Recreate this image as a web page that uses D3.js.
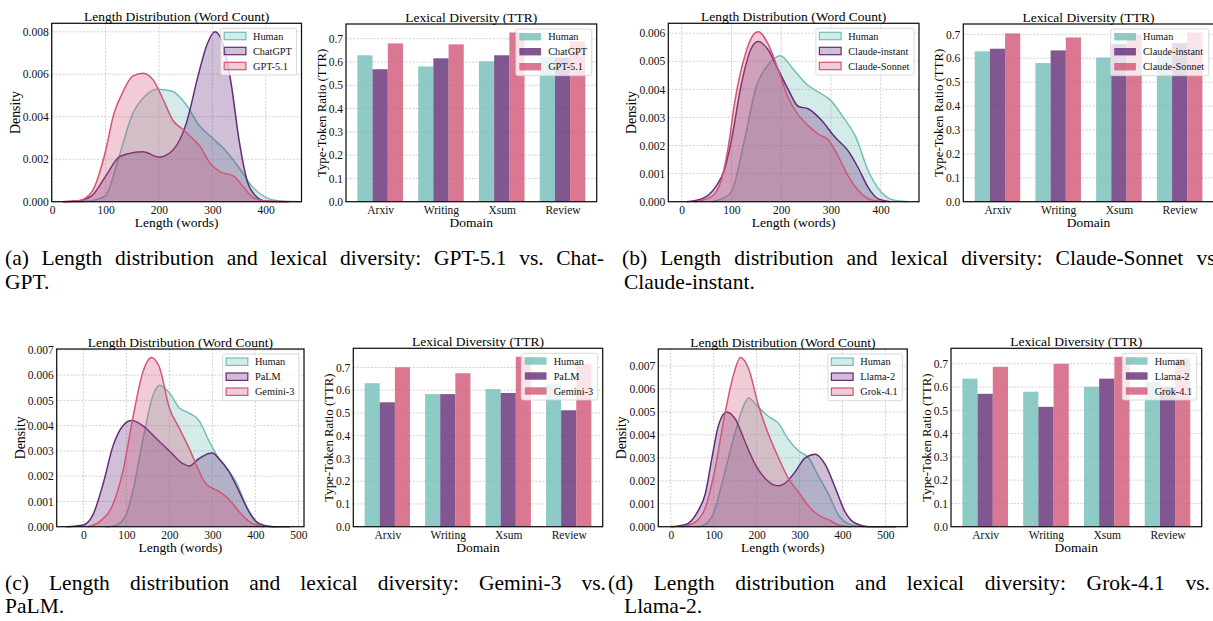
<!DOCTYPE html>
<html>
<head>
<meta charset="utf-8">
<script src="https://cdn.jsdelivr.net/npm/d3@7"></script>
<style>
  body { margin: 0; background: #fff; }
  svg { display: block; }
</style>
</head>
<body>
<script>
// ---- data ----
const domains = ["Arxiv", "Writing", "Xsum", "Review"];

// (a) GPT-5.1 vs ChatGPT
const labelsA = ["Human", "ChatGPT", "GPT-5.1"];
const kdeHumanA = [[40,0],[60,0.00001],[75,0.00005],[100,0.0003],[125,0.0021],[150,0.0041],[175,0.0050],[195,0.0053],[225,0.0052],[250,0.0046],[275,0.0036],[300,0.0030],[325,0.0024],[350,0.0016],[375,0.0007],[400,0.0002],[425,0.00003],[465,0]];
const kdeChatgptA = [[20,0],[50,0.00005],[75,0.0003],[100,0.0012],[125,0.0021],[150,0.0023],[170,0.00235],[200,0.0021],[225,0.0024],[250,0.0036],[275,0.0061],[290,0.0074],[305,0.0080],[320,0.0074],[335,0.0056],[350,0.0029],[365,0.0010],[380,0.0003],[400,0.00002],[440,0]];
const kdeGpt51A = [[20,0],[50,0.00005],[75,0.0005],[100,0.0024],[115,0.0041],[133,0.0052],[150,0.0059],[170,0.00605],[190,0.0057],[208,0.0048],[227,0.0038],[245,0.0034],[262,0.0030],[277,0.0026],[296,0.0018],[315,0.0014],[340,0.0012],[358,0.0007],[376,0.0002],[400,0.00003],[445,0]];
const ttrHumanA = [0.629, 0.581, 0.603, 0.621];
const ttrChatgptA = [0.569, 0.616, 0.629, 0.620];
const ttrGpt51A = [0.680, 0.676, 0.727, 0.689];

// (b) Claude-Sonnet vs Claude-instant
const labelsB = ["Human", "Claude-instant", "Claude-Sonnet"];
const kdeHumanB = [[60,0],[74,0.00006],[100,0.00036],[125,0.0021],[150,0.0041],[175,0.0049],[198,0.0052],[225,0.0047],[250,0.0042],[275,0.0039],[300,0.0036],[325,0.0030],[350,0.0023],[375,0.0011],[400,0.00036],[425,0.00006],[455,0]];
const kdeInstantB = [[10,0],[40,0.0001],[67,0.0005],[87,0.0012],[100,0.0022],[120,0.0042],[141,0.0055],[154,0.0057],[174,0.0054],[194,0.0047],[214,0.0040],[234,0.0034],[255,0.0033],[281,0.0029],[308,0.0023],[335,0.0018],[355,0.0012],[375,0.0005],[395,0.0001],[420,0]];
const kdeSonnetB = [[27,0],[60,0.00018],[80,0.0008],[94,0.0020],[107,0.0036],[127,0.0052],[147,0.0060],[154,0.00605],[174,0.0056],[194,0.0047],[214,0.0037],[234,0.0031],[255,0.0027],[275,0.0024],[295,0.0022],[315,0.0016],[335,0.0009],[355,0.0004],[382,0.00006],[410,0]];
const ttrHumanB = [0.629, 0.580, 0.603, 0.620];
const ttrInstantB = [0.640, 0.633, 0.660, 0.664];
const ttrSonnetB = [0.704, 0.687, 0.700, 0.708];

// (c) Gemini-3 vs PaLM
const labelsC = ["Human", "PaLM", "Gemini-3"];
const kdeHumanC = [[50,0],[62,0.00001],[75,0.00005],[100,0.0005],[115,0.0014],[138,0.0034],[162,0.0052],[177,0.0056],[200,0.0053],[223,0.0047],[246,0.0045],[269,0.0042],[292,0.0034],[315,0.0027],[338,0.0022],[354,0.0018],[377,0.0009],[400,0.0002],[423,0.00003],[450,0]];
const kdePalmC = [[-40,0],[0,0.00007],[23,0.0005],[46,0.0017],[69,0.0032],[92,0.0040],[112,0.0042],[138,0.0040],[169,0.0035],[200,0.0030],[231,0.0025],[246,0.0024],[269,0.0027],[292,0.0029],[300,0.00292],[315,0.0027],[338,0.0022],[362,0.0014],[385,0.0006],[408,0.00013],[440,0],[480,0]];
const kdeGeminiC = [[10,0],[38,0.0002],[69,0.0009],[92,0.0022],[115,0.0043],[138,0.0061],[158,0.0067],[177,0.0063],[200,0.0047],[223,0.0039],[246,0.0031],[269,0.0022],[285,0.0017],[315,0.0014],[338,0.0011],[362,0.0006],[392,0.00013],[420,0]];
const ttrHumanC = [0.631, 0.583, 0.605, 0.627];
const ttrPalmC = [0.547, 0.583, 0.588, 0.512];
const ttrGeminiC = [0.701, 0.675, 0.747, 0.715];

// (d) Grok-4.1 vs Llama-2
const labelsD = ["Human", "Llama-2", "Grok-4.1"];
const kdeHumanD = [[60,0],[75,0.00005],[100,0.0006],[125,0.0023],[150,0.0041],[173,0.0054],[181,0.0056],[204,0.0052],[228,0.0048],[251,0.0045],[274,0.0038],[298,0.0033],[321,0.0030],[344,0.0022],[368,0.0014],[391,0.0005],[422,0.00007],[450,0]];
const kdeLlamaD = [[0,0],[25,0.00005],[41,0.00015],[64,0.0007],[80,0.0014],[96,0.0030],[111,0.0044],[130,0.0050],[150,0.0047],[173,0.0037],[197,0.0027],[220,0.0021],[243,0.0018],[250,0.00178],[267,0.0019],[290,0.0024],[313,0.0030],[337,0.00316],[360,0.0027],[383,0.0017],[406,0.00065],[430,0.00015],[461,0],[525,0]];
const kdeGrokD = [[26,0],[57,0.0002],[80,0.0008],[103,0.0025],[127,0.0050],[146,0.0066],[162,0.00737],[181,0.0069],[204,0.0053],[228,0.0040],[251,0.0030],[274,0.0021],[298,0.0015],[321,0.0009],[344,0.0005],[368,0.0003],[391,0.00007],[420,0]];
const ttrHumanD = [0.636, 0.580, 0.601, 0.623];
const ttrLlamaD = [0.571, 0.515, 0.636, 0.600];
const ttrGrokD = [0.687, 0.700, 0.730, 0.722];

// tick values
const lenTicks4 = [0, 100, 200, 300, 400];
const lenTicks5 = [0, 100, 200, 300, 400, 500];
const densTicksA = [0, 0.002, 0.004, 0.006, 0.008];
const densTicks6 = [0, 0.001, 0.002, 0.003, 0.004, 0.005, 0.006];
const densTicks7 = [0, 0.001, 0.002, 0.003, 0.004, 0.005, 0.006, 0.007];
const ttrTicks = [0, 0.1, 0.2, 0.3, 0.4, 0.5, 0.6, 0.7];

const captions = [
  "(a) Length distribution and lexical diversity: GPT-5.1 vs. Chat-", "GPT.",
  "(b) Length distribution and lexical diversity: Claude-Sonnet vs.", "Claude-instant.",
  "(c) Length distribution and lexical diversity: Gemini-3 vs.", "PaLM.",
  "(d) Length distribution and lexical diversity: Grok-4.1 vs.", "Llama-2."
];

// ---- drawing ----
const W = 1213, H = 621;
const FONT = "'Liberation Serif','Times New Roman',serif";
const colors = ["#73beb8", "#622c76", "#d15676"];

const svg = d3.select("body").append("svg").attr("width", W).attr("height", H);
svg.append("rect").attr("width", W).attr("height", H).attr("fill", "#fff");

function gridLines(g, box, xs, ys) {
  g.selectAll(null).data(xs).join("line")
    .attr("x1", d => d).attr("x2", d => d).attr("y1", box.y0).attr("y2", box.y1);
  g.selectAll(null).data(ys).join("line")
    .attr("x1", box.x0).attr("x2", box.x1).attr("y1", d => d).attr("y2", d => d);
  g.selectAll("line").attr("stroke", "#c4c4c4").attr("stroke-width", 0.8)
    .attr("stroke-dasharray", "2,1.5");
}

function styleAxis(ax) {
  ax.select(".domain").remove();
  ax.selectAll("text").attr("font-family", FONT).attr("font-size", 11.5).attr("fill", "#111");
}

function decorate(box, title, xLabel, yLabel, yOff, labelSize) {
  svg.append("rect").attr("x", box.x0).attr("y", box.y0)
    .attr("width", box.x1 - box.x0).attr("height", box.y1 - box.y0)
    .attr("fill", "none").attr("stroke", "#111").attr("stroke-width", 1.25);
  const cx = (box.x0 + box.x1) / 2, cy = (box.y0 + box.y1) / 2;
  svg.append("text").attr("x", cx).attr("y", box.y0 - 6.5).attr("text-anchor", "middle")
    .attr("dominant-baseline", "central").attr("font-family", FONT).attr("font-size", 13.5)
    .text(title);
  svg.append("text").attr("x", cx).attr("y", box.y1 + 20.5).attr("text-anchor", "middle")
    .attr("dominant-baseline", "central").attr("font-family", FONT).attr("font-size", 13.5)
    .text(xLabel);
  svg.append("text").attr("transform", `translate(${box.x0 - yOff},${cy}) rotate(-90)`)
    .attr("text-anchor", "middle").attr("dominant-baseline", "central")
    .attr("font-family", FONT).attr("font-size", labelSize).text(yLabel);
}

function legend(box, labels, kind) {
  const g = svg.append("g");
  const frame = g.append("rect");
  const texts = labels.map((l, i) => g.append("text")
    .attr("dominant-baseline", "central").attr("font-family", FONT)
    .attr("font-size", 10.3).attr("fill", "#111").text(l));
  const tw = d3.max(texts, t => t.node().getComputedTextLength());
  const w = 32.3 + tw + 4.6, h = 46.7;
  const lx = box.x1 - 5 - w, ly = box.y0 + 5;
  frame.attr("x", lx).attr("y", ly).attr("width", w).attr("height", h).attr("rx", 2)
    .attr("fill", "#fff").attr("fill-opacity", 0.8).attr("stroke", "#d0d0d0").attr("stroke-width", 0.8);
  labels.forEach((l, i) => {
    const ry = ly + 7.7 + i * 15;
    const p = g.append("rect").attr("x", lx + 3.5).attr("y", ry - 3.7).attr("width", 21.7).attr("height", 7.4);
    if (kind === "kde") {
      p.attr("fill", colors[i]).attr("fill-opacity", 0.3).attr("stroke", colors[i]).attr("stroke-width", 1.2);
    } else {
      p.attr("fill", colors[i]).attr("fill-opacity", 0.8);
    }
    texts[i].attr("x", lx + 32.3).attr("y", ry);
  });
}

function drawKde(box, series, labels, xDomain, xTicks, yTicks) {
  const x = d3.scaleLinear().domain(xDomain).range([box.x0, box.x1]);
  const ymax = d3.max(series, s => d3.max(s, d => d[1])) * 1.05;
  const y = d3.scaleLinear().domain([0, ymax]).range([box.y1, box.y0]);
  gridLines(svg.append("g"), box, xTicks.map(x), yTicks.map(y));
  const area = d3.area().x(d => x(d[0])).y0(y(0)).y1(d => y(d[1])).curve(d3.curveMonotoneX);
  const line = d3.line().x(d => x(d[0])).y(d => y(d[1])).curve(d3.curveMonotoneX);
  const g = svg.append("g");
  series.forEach((s, i) => {
    g.append("path").attr("d", area(s)).attr("fill", colors[i]).attr("fill-opacity", 0.3);
    g.append("path").attr("d", line(s)).attr("fill", "none").attr("stroke", colors[i]).attr("stroke-width", 1.5);
  });
  styleAxis(svg.append("g").attr("transform", `translate(0,${box.y1})`)
    .call(d3.axisBottom(x).tickValues(xTicks).tickSize(0).tickPadding(4.5).tickFormat(d3.format("d"))));
  styleAxis(svg.append("g").attr("transform", `translate(${box.x0},0)`)
    .call(d3.axisLeft(y).tickValues(yTicks).tickSize(0).tickPadding(3).tickFormat(d3.format(".3f"))));
  decorate(box, "Length Distribution (Word Count)", "Length (words)", "Density", 36.5, 13.8);
  legend(box, labels, "kde");
}

function drawBars(box, series, labels) {
  const x = d3.scaleLinear().domain([-0.5625, domains.length - 0.4375]).range([box.x0, box.x1]);
  const ymax = d3.max(series, s => d3.max(s)) * 1.05;
  const y = d3.scaleLinear().domain([0, ymax]).range([box.y1, box.y0]);
  gridLines(svg.append("g"), box, [], ttrTicks.map(y));
  const bw = 0.25;
  series.forEach((s, k) => {
    svg.append("g").selectAll("rect").data(s).join("rect")
      .attr("x", (d, i) => x(i + (k - 1) * bw - bw / 2))
      .attr("width", x(bw) - x(0))
      .attr("y", d => y(d))
      .attr("height", d => y(0) - y(d))
      .attr("fill", colors[k]).attr("fill-opacity", 0.8);
  });
  styleAxis(svg.append("g").attr("transform", `translate(0,${box.y1})`)
    .call(d3.axisBottom(x).tickValues(d3.range(domains.length)).tickSize(0).tickPadding(4.5)
      .tickFormat(i => domains[i])));
  styleAxis(svg.append("g").attr("transform", `translate(${box.x0},0)`)
    .call(d3.axisLeft(y).tickValues(ttrTicks).tickSize(0).tickPadding(3).tickFormat(d3.format(".1f"))));
  decorate(box, "Lexical Diversity (TTR)", "Domain", "Type-Token Ratio (TTR)", 24.2, 12.8);
  legend(box, labels, "bar");
}

// panel boxes (pixel layout)
drawKde({x0: 51.7, x1: 301.5, y0: 23.3, y1: 201.7}, [kdeHumanA, kdeChatgptA, kdeGpt51A], labelsA, [-1, 467], lenTicks4, densTicksA);
drawBars({x0: 346, x1: 596.7, y0: 24, y1: 201.7}, [ttrHumanA, ttrChatgptA, ttrGpt51A], labelsA);
drawKde({x0: 668.3, x1: 919, y0: 23.3, y1: 201.7}, [kdeHumanB, kdeInstantB, kdeSonnetB], labelsB, [-27, 477], lenTicks4, densTicks6);
drawBars({x0: 963.3, x1: 1213.8, y0: 24, y1: 201.7}, [ttrHumanB, ttrInstantB, ttrSonnetB], labelsB);
drawKde({x0: 56.7, x1: 304, y0: 349, y1: 526.7}, [kdeHumanC, kdePalmC, kdeGeminiC], labelsC, [-62, 513], lenTicks5, densTicks7);
drawBars({x0: 353.3, x1: 602.7, y0: 348.3, y1: 526.7}, [ttrHumanC, ttrPalmC, ttrGeminiC], labelsC);
drawKde({x0: 658.3, x1: 907.3, y0: 349, y1: 526.7}, [kdeHumanD, kdeLlamaD, kdeGrokD], labelsD, [-29, 551], lenTicks5, densTicks7);
drawBars({x0: 951, x1: 1201.7, y0: 348.3, y1: 526.7}, [ttrHumanD, ttrLlamaD, ttrGrokD], labelsD);

// sub-captions, justified line 1
function caption(x, base, width, text) {
  const t = svg.append("text").attr("x", x).attr("y", base)
    .attr("font-family", FONT).attr("font-size", 21.5).attr("fill", "#000").text(text);
  if (width) {
    const n = t.node().getComputedTextLength();
    const spaces = text.split(" ").length - 1;
    t.attr("word-spacing", Math.max(0, (width - n) / spaces));
  }
}
caption(5, 264.5, 599, captions[0]);   caption(5, 288.5, 0, captions[1]);
caption(622, 264.5, 599, captions[2]); caption(624, 288.5, 0, captions[3]);
caption(5, 589.5, 601, captions[4]);   caption(5, 612.5, 0, captions[5]);
caption(608, 589.5, 602, captions[6]); caption(624, 612.5, 0, captions[7]);
</script>
</body>
</html>
